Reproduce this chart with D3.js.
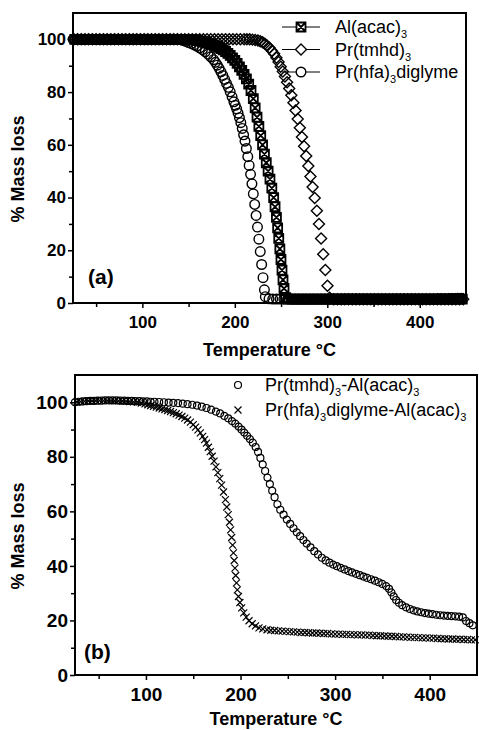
<!DOCTYPE html>
<html>
<head>
<meta charset="utf-8">
<script src="https://cdn.jsdelivr.net/npm/d3@7"></script>
<style>
    body { margin: 0; background: #fff; }
    svg { display: block; font-family: "Liberation Sans", Arial, sans-serif; }
</style>
</head>
<body>
<div id="chart"></div>
<script>
//---------------------------------//
// Data    //
//---------------------------------//

const tempRange = [25, 450];
const massRange = [0, 110];
const tempTicks = [100, 200, 300, 400];
const tempMinorTicks = [50, 150, 250, 350];
const massTicks = [0, 20, 40, 60, 80, 100];
const massMinorTicks = [10, 30, 50, 70, 90];

const xTitle = 'Temperature °C';
const yTitle = '% Mass loss';
const panelLabels = ['(a)', '(b)'];
const legendA = ['Al(acac)_3', 'Pr(tmhd)_3', 'Pr(hfa)_3diglyme'];          // "_3" = subscript
const legendB = ['Pr(tmhd)_3-Al(acac)_3', 'Pr(hfa)_3diglyme-Al(acac)_3'];

// panel (a): [temperature, % mass]
const alAcacA = [
    [27,100],[31,100],[35,100],[39,100],[43,100],[47,100],[51,100],[55,100],[59,100],[63,100],[67,100],
    [71,100],[75,100],[79,100],[83,100],[87,100],[91,100],[95,100],[99,100],[103,100],[107,100],[111,100],
    [115,100],[119,100],[123,100],[127,100],[131,100],[135,100],[139,100],[143,100],[147,100],[150,100],
    [152.5,99.9],[155,99.8],[157.5,99.7],[160,99.5],[162.5,99.3],[165,99.1],[167.5,98.9],[170,98.7],
    [172.5,98.4],[175,98.1],[177.5,97.8],[180,97.4],[182.5,97],[185,96.5],[187.5,96],[190,95.4],
    [192.5,94.7],[195,93.9],[197.5,93],[200,92],[202.5,90.9],[205,89.6],[207.5,88.2],[210,86.7],
    [212.5,85],[215,83],[217.5,80.6],[220,77.5],[222,74],[224,70.5],[226,67],[228,63.5],[230,60],
    [232,56.5],[234,53.2],[236,50],[238,47],[240,43.6],[242,40],[243.5,36.5],[245,32.5],[246.3,28.5],
    [247.5,24.5],[248.7,20.5],[249.9,16.5],[251,12.5],[252.1,8.8],[253.2,5.5],[255,2],
    [258,1.5],[262,1.5],[266,1.5],[270,1.5],[274,1.5],[278,1.5],[282,1.5],[286,1.5],[290,1.5],[294,1.5],
    [298,1.5],[302,1.5],[306,1.5],[310,1.5],[314,1.5],[318,1.5],[322,1.5],[326,1.5],[330,1.5],[334,1.5],
    [338,1.5],[342,1.5],[346,1.5],[350,1.5],[354,1.5],[358,1.5],[362,1.5],[366,1.5],[370,1.5],[374,1.5],
    [378,1.5],[382,1.5],[386,1.5],[390,1.5],[394,1.5],[398,1.5],[402,1.5],[406,1.5],[410,1.5],[414,1.5],
    [418,1.5],[422,1.5],[426,1.5],[430,1.5],[434,1.5],[438,1.5],[442,1.5],[446,1.5]
];

const prTmhdA = [
    [26,100],[30,100],[34,100],[38,100],[42,100],[46,100],[50,100],[54,100],[58,100],[62,100],[66,100],
    [70,100],[74,100],[78,100],[82,100],[86,100],[90,100],[94,100],[98,100],[102,100],[106,100],[110,100],
    [114,100],[118,100],[122,100],[126,100],[130,100],[134,100],[138,100],[142,100],[146,100],[150,100],
    [154,100],[158,100],[162,100],[166,100],[170,100],[174,100],[178,100],[182,100],[186,100],[190,100],
    [194,100],[198,100],[202,100],[206,100],[210,100],[213,100],
    [216,100],[219,99.9],[222,99.8],[225,99.6],[227.5,99.3],[230,98.9],[232.5,98.3],[235,97.6],
    [237.5,96.8],[240,95.7],[242.5,94.5],[245,93],[247.3,91.4],[249.6,89.6],[251.9,87.8],[254.2,85.9],
    [256.5,83.7],[258.8,81.4],[261.1,78.8],[263.4,76],[265.7,73],[268,69.8],[270.3,66.5],[272.6,63],
    [274.9,59.5],[277.2,55.8],[279.5,52],[281.8,48],[284.1,44],[286.4,39.8],[288.7,35],[291,30],
    [293.3,24.5],[295.6,18.5],[297.9,12.5],[300.2,6.5],[302.5,2],
    [307,1.4],[311,1.4],[315,1.4],[319,1.4],[323,1.4],[327,1.4],[331,1.4],[335,1.4],[339,1.4],[343,1.4],
    [347,1.4],[351,1.4],[355,1.4],[359,1.4],[363,1.4],[367,1.4],[371,1.4],[375,1.4],[379,1.4],[383,1.4],
    [387,1.4],[391,1.4],[395,1.4],[399,1.4],[403,1.4],[407,1.4],[411,1.4],[415,1.4],[419,1.4],[423,1.4],
    [427,1.4],[431,1.4],[435,1.4],[439,1.4],[443,1.4],[447,1.4]
];

const prHfaA = [
    [25,100],[29,100],[33,100],[37,100],[41,100],[45,100],[49,100],[53,100],[57,100],[61,100],[65,100],
    [69,100],[73,100],[77,100],[81,100],[85,100],[89,100],[93,100],[97,100],[101,100],[105,100],[109,100],
    [113,100],[117,100],[121,100],[125,100],[129,100],[133,100],[137,100],
    [141,99.9],[144,99.6],[147,99.2],[150,98.8],[153,98.4],[156,97.9],[159,97.4],[162,96.8],[165,96.1],
    [168,95.3],[171,94.4],[174,93.4],[177,92.3],[179,91.3],[181,90.2],[183,89],[185,87.7],[187,86.3],
    [189,84.8],[191,83.3],[193,81.8],[195,80.1],[197,78.2],[199,76.3],[200.5,75],[202,73.6],[203.5,72],
    [205,70.3],[206.5,68.4],[208,66.2],[209.5,63.8],[211,61.4],[212.5,58.6],[214,55.5],[215.5,52.2],
    [217,48.8],[218.5,45.2],[220,41.4],[221.5,37.4],[223,33.2],[224.5,28.8],[226,24.2],[227.5,19.5],
    [229,14.6],[230.5,9.6],[232,5],[233,2.4],
    [237,1.6],[241,1.5],[245,1.5],[249,1.5],[253,1.5],[257,1.5],[261,1.5],[265,1.5],[269,1.5],[273,1.5],
    [277,1.5],[281,1.5],[285,1.5],[289,1.5],[293,1.5],[297,1.5],[301,1.5],[305,1.5],[309,1.5],[313,1.5],
    [317,1.5],[321,1.5],[325,1.5],[329,1.5],[333,1.5],[337,1.5],[341,1.5],[345,1.5],[349,1.5],[353,1.5],
    [357,1.5],[361,1.5],[365,1.5],[369,1.5],[373,1.5],[377,1.5],[381,1.5],[385,1.5],[389,1.5],[393,1.5],
    [397,1.5],[401,1.5],[405,1.5],[409,1.5],[413,1.5],[417,1.5],[421,1.6],[425,1.6],[429,1.6],[433,1.7],
    [437,1.7],[441,1.8],[445,1.8]
];

// panel (b)
const prTmhdAlB = [
    [25,100],[29,100.2],[33,100.3],[37,100.4],[41,100.5],[45,100.5],[49,100.6],[53,100.6],[57,100.7],
    [61,100.7],[65,100.7],[69,100.7],[73,100.6],[77,100.6],[81,100.5],[85,100.5],[89,100.4],[93,100.4],
    [97,100.3],[101,100.3],[105,100.2],[109,100.2],
    [114,100.1],[119,100],[124,99.9],[129,99.8],[134,99.7],[139,99.5],[144,99.3],[149,99.1],[154,98.8],
    [159,98.4],[164,97.9],[169,97.3],[174,96.6],[178.5,95.9],[183,95],[187,94.1],[191,93.1],[194.5,92.2],
    [198,91.1],[201,90],[204,88.9],[207,87.7],[210,86.5],[213,85.2],[216,83.6],[218.5,81.8],[221,79.6],
    [223.5,77.2],[226,74.8],[228.5,72.4],[231,70],[233.5,67.6],[236,65.2],[239,62.6],[242,60.6],
    [245.5,58.8],[249,57],[252.5,55.4],[256,53.8],[259.5,52.3],[263,50.9],[266.5,49.5],[270,48.2],
    [274,46.8],[278,45.4],[282,44.2],[286,43],[290,42],[294,41.2],[298,40.5],[302,39.9],[306,39.3],
    [310,38.7],[314,38.1],[318,37.6],[322,37.1],[326,36.6],[330,36.1],[334,35.6],[338,35.1],[342,34.6],
    [346,34],[350,33.4],[354,32.6],[357,31.6],[359.5,30.3],[362,28.8],[364.5,27.5],[367.5,26.5],
    [371,25.6],[375,24.8],[379,24.2],[383,23.7],[387,23.3],[391,23],[395,22.7],[399,22.5],[403,22.3],
    [407,22.1],[411,21.9],[415,21.8],[419,21.7],[423,21.6],[427,21.5],[431,21.4],[435,21.1],
    [438.5,19.8],[442,19],[445.5,18.2]
];

const prHfaAlB = [
    [27,100.1],[31,100.25],[35,100.35],[39,100.45],[43,100.5],[47,100.55],[51,100.6],[55,100.6],
    [59,100.6],[63,100.6],[67,100.55],[71,100.5],[75,100.45],[79,100.35],[83,100.25],[87,100.15],
    [91,100],[95,99.75],[99,99.4],[102,99.1],[105,98.8],[108,98.5],[111,98.2],[114,97.9],[117,97.6],
    [120,97.3],[123,97],[126,96.6],[129,96.2],[132,95.8],[135,95.3],[138,94.8],[141,94.2],[144,93.5],
    [147,92.7],[150,91.8],[152.5,90.9],[155,89.9],[157.5,88.8],[160,87.5],[162,86.3],[164,85],[166,83.5],
    [168,81.9],[170,80.2],[172,78.4],[174,76.3],[176,74.2],[178,72],[180,69.6],[182,67.1],[184,64.3],
    [185.5,61.6],[187,58.8],[188.3,56],[189.5,53.2],[190.6,50.4],[191.6,47.6],[192.5,44.8],[193.3,42],
    [194.1,39.2],[194.9,36.5],[195.7,33.8],[196.6,31.2],[197.8,28.8],[199.3,26.6],[201.2,24.6],
    [203.4,22.8],[206,21.2],[209,19.9],[212.3,18.8],[215.8,18],[219.5,17.3],[223.5,16.9],[228,16.6],
    [232,16.4],[236,16.3],[240,16.2],[244,16.1],[248,16],[252,15.9],[256,15.8],[260,15.7],[264,15.6],
    [268,15.6],[272,15.5],[276,15.4],[280,15.4],[284,15.3],[288,15.2],[292,15.2],[296,15.1],[300,15],
    [304,15],[308,14.9],[312,14.9],[316,14.8],[320,14.8],[324,14.7],[328,14.7],[332,14.6],[336,14.6],
    [340,14.5],[344,14.4],[348,14.4],[352,14.3],[356,14.2],[360,14.2],[364,14.1],[368,14],[372,14],
    [376,13.9],[380,13.8],[384,13.8],[388,13.7],[392,13.6],[396,13.6],[400,13.5],[404,13.5],[408,13.4],
    [412,13.3],[416,13.3],[420,13.2],[424,13.2],[428,13.1],[432,13.1],[436,13],[440,13],[444,12.9],
    [448,12.9]
];

//---------------------------------//
// Figure Object                   //
//---------------------------------//

window.Fig = window.Fig || {};

Fig.init = function() {
    Fig.setup.initConsts();         //Panel layout
    Fig.setup.initSvg();            //Canvas
    Fig.panels.forEach(Fig.draw.panel);
};

Fig.markers = {                     //Path strings centred on (cx, cy)
    boxX: function(cx, cy) {
        var s = 4.5;
        return 'M' + (cx - s) + ',' + (cy - s) + 'h' + 2 * s + 'v' + 2 * s + 'h' + (-2 * s) + 'Z' +
               'M' + (cx - s) + ',' + (cy - s) + 'L' + (cx + s) + ',' + (cy + s) +
               'M' + (cx + s) + ',' + (cy - s) + 'L' + (cx - s) + ',' + (cy + s);
    },
    diamond: function(cx, cy) {
        var s = 5.5;
        return 'M' + cx + ',' + (cy - s) + 'L' + (cx + s) + ',' + cy + 'L' + cx + ',' + (cy + s) +
               'L' + (cx - s) + ',' + cy + 'Z';
    },
    circle: function(cx, cy) { return Fig.helpers.ring(cx, cy, 4.8); },
    ring: function(cx, cy) { return Fig.helpers.ring(cx, cy, 3.5); },
    cross: function(cx, cy) {
        var s = 3.5;
        return 'M' + (cx - s) + ',' + (cy - s) + 'L' + (cx + s) + ',' + (cy + s) +
               'M' + (cx + s) + ',' + (cy - s) + 'L' + (cx - s) + ',' + (cy + s);
    }
};

Fig.markerWidth = { boxX: 1.8, diamond: 1.4, circle: 1.4, ring: 1.2, cross: 1.2 };

Fig.helpers = {
    ring: function(cx, cy, r) {
        return 'M' + (cx + r) + ',' + cy + 'A' + r + ',' + r + ' 0 1,1 ' + (cx - r) + ',' + cy +
               'A' + r + ',' + r + ' 0 1,1 ' + (cx + r) + ',' + cy + 'Z';
    },

    richText: function(sel, str, subSize) {             //"_3" -> subscript 3
        var parts = str.split(/_(\d)/);
        parts.forEach(function(p, i) {
            if (!p) return;
            var t = sel.append('tspan').text(p);
            if (i % 2 === 1) {
                t.attr('font-size', subSize).attr('dy', 5);
            } else if (i > 0) {
                t.attr('dy', -5);
            }
        });
    }
};

Fig.setup = {
    initConsts: function() {
        Fig.width = 479;
        Fig.height = 730;

        Fig.panels = [
            {
                box: { left: 73, right: 466, top: 13, bottom: 303 },
                tickFont: 17,
                label: panelLabels[0], labelPos: [88, 284],
                xTitleY: 356, yTitlePos: [24, 169],
                series: [
                    { data: alAcacA, marker: 'boxX' },
                    { data: prTmhdA, marker: 'diamond' },
                    { data: prHfaA, marker: 'circle' }
                ],
                legend: { names: legendA, x: 301, textX: 335, y0: 27, dy: 22.5, line: [282, 320] }
            },
            {
                box: { left: 75, right: 477, top: 375, bottom: 675 },
                tickFont: 19,
                label: panelLabels[1], labelPos: [84, 659],
                xTitleY: 725, yTitlePos: [24, 536],
                series: [
                    { data: prTmhdAlB, marker: 'ring' },
                    { data: prHfaAlB, marker: 'cross' }
                ],
                legend: { names: legendB, x: 238, textX: 265, y0: 385, dy: 25, line: null }
            }
        ];
    },

    initSvg: function() {
        Fig.svg = d3.select('#chart')
                    .append('svg')
                     .attr('width', Fig.width)
                     .attr('height', Fig.height);
        Fig.svg.append('rect')
               .attr('width', Fig.width).attr('height', Fig.height)
               .attr('fill', '#fff');
    }
};

Fig.draw = {
    panel: function(p) {
        var b = p.box;
        var x = d3.scaleLinear().domain(tempRange).range([b.left, b.right]);
        var y = d3.scaleLinear().domain(massRange).range([b.bottom, b.top]);
        var g = Fig.svg.append('g');

        Fig.draw.axes(g, p, x, y);

        p.series.forEach(function(s) {                       //Data markers
            g.append('g')
              .selectAll('path')
              .data(s.data)
              .join('path')
               .attr('d', function(d) { return Fig.markers[s.marker](x(d[0]), y(d[1])); })
               .attr('fill', 'none')
               .attr('stroke', '#000')
               .attr('stroke-width', Fig.markerWidth[s.marker]);
        });

        g.append('rect')                                     //Frame
          .attr('x', b.left).attr('y', b.top)
          .attr('width', b.right - b.left).attr('height', b.bottom - b.top)
          .attr('fill', 'none').attr('stroke', '#000').attr('stroke-width', 2);

        Fig.draw.legend(g, p);
        Fig.draw.titles(g, p);
    },

    axes: function(g, p, x, y) {
        var b = p.box;
        var xAxis = g.append('g').attr('transform', 'translate(0,' + b.bottom + ')')
                     .call(d3.axisBottom(x).tickValues(tempTicks).tickSize(5).tickPadding(8)
                                           .tickFormat(d3.format('d')));
        g.append('g').attr('transform', 'translate(0,' + b.bottom + ')')
          .call(d3.axisBottom(x).tickValues(tempMinorTicks).tickSize(4).tickFormat(''));

        var yAxis = g.append('g').attr('transform', 'translate(' + b.left + ',0)')
                     .call(d3.axisLeft(y).tickValues(massTicks).tickSize(5).tickPadding(2)
                                         .tickFormat(d3.format('d')));
        g.append('g').attr('transform', 'translate(' + b.left + ',0)')
          .call(d3.axisLeft(y).tickValues(massMinorTicks).tickSize(4).tickFormat(''));

        g.selectAll('.domain').remove();
        g.selectAll('.tick line').attr('stroke', '#000').attr('stroke-width', 1.5);
        [xAxis, yAxis].forEach(function(a) {
            a.selectAll('text')
              .attr('fill', '#000')
              .attr('font-family', '"Liberation Sans", Arial, sans-serif')
              .attr('font-weight', 'bold')
              .attr('font-size', p.tickFont);
        });
    },

    legend: function(g, p) {
        var L = p.legend;
        L.names.forEach(function(name, i) {
            var cy = L.y0 + i * L.dy;
            var s = p.series[i];
            if (L.line) {
                g.append('line')
                  .attr('x1', L.line[0]).attr('x2', L.line[1])
                  .attr('y1', cy).attr('y2', cy)
                  .attr('stroke', '#000').attr('stroke-width', 1);
            }
            g.append('path')
              .attr('d', Fig.markers[s.marker](L.x, cy))
              .attr('fill', '#fff')
              .attr('stroke', '#000')
              .attr('stroke-width', Fig.markerWidth[s.marker]);

            var t = g.append('text')
                     .attr('x', L.textX).attr('y', cy + 6)
                     .attr('font-size', 18);
            Fig.helpers.richText(t, name, 11);
        });
    },

    titles: function(g, p) {
        var b = p.box;
        g.append('text')
          .attr('x', (b.left + b.right) / 2).attr('y', p.xTitleY)
          .attr('text-anchor', 'middle')
          .attr('font-weight', 'bold').attr('font-size', 18)
          .text(xTitle);

        g.append('text')
          .attr('transform', 'translate(' + p.yTitlePos[0] + ',' + p.yTitlePos[1] + ') rotate(-90)')
          .attr('text-anchor', 'middle')
          .attr('font-weight', 'bold').attr('font-size', 18)
          .text(yTitle);

        g.append('text')
          .attr('x', p.labelPos[0]).attr('y', p.labelPos[1])
          .attr('font-weight', 'bold').attr('font-size', 21)
          .text(p.label);
    }
};

document.addEventListener('DOMContentLoaded', Fig.init);
</script>
</body>
</html>
